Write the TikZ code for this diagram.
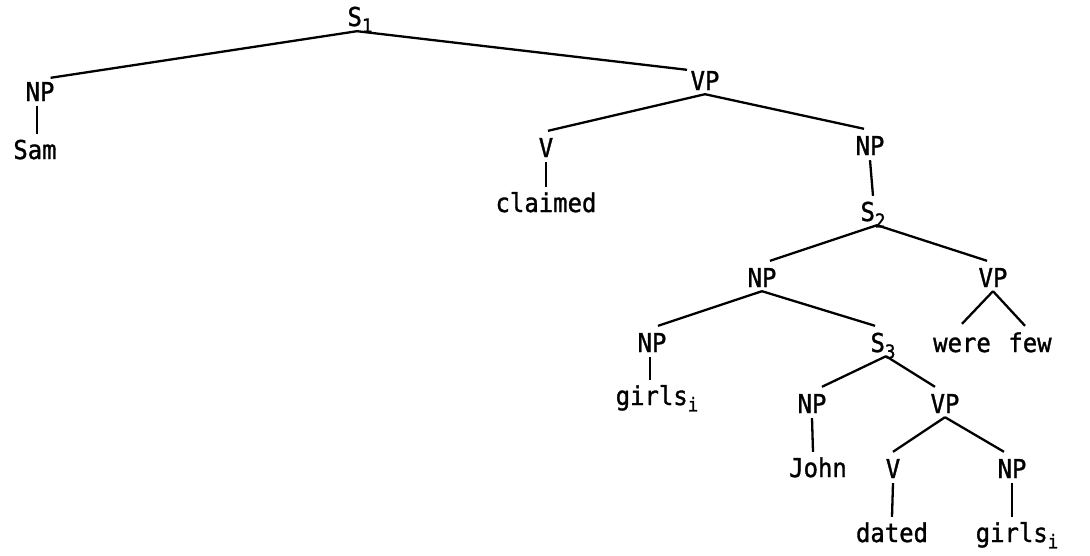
\documentclass[tikz,border=0pt]{standalone}
\usepackage{fontspec}
\setmonofont[FakeStretch=0.92,FakeBold=1.2]{DejaVu Sans Mono}
\newcommand\lowix[1]{\raisebox{-0.45ex}{\fontsize{19}{19}\selectfont #1}}
\begin{document}
\begin{tikzpicture}[x=1pt,y=-1pt,
  lbl/.style={inner sep=0pt,text height=20pt,text depth=6pt,font=\ttfamily\fontsize{26}{26}\selectfont},
  edge/.style={line width=2.3pt,black}]
\useasboundingbox (0,0) rectangle (1090,555);
% nodes
\node[lbl] (s1) at (360,19) {S\lowix{1}};
\node[lbl] (np1) at (40,94) {NP};
\node[lbl] (sam) at (35,152) {Sam};
\node[lbl] (vp1) at (705,83) {VP};
\node[lbl] (v1) at (546,150) {V};
\node[lbl] (claimed) at (546,205) {claimed};
\node[lbl] (np2) at (870,148) {NP};
\node[lbl] (s2) at (873,214) {S\lowix{2}};
\node[lbl] (np3) at (762,280) {NP};
\node[lbl] (vp2) at (993,280) {VP};
\node[lbl] (were) at (962,345) {were};
\node[lbl] (few) at (1030,345) {few};
\node[lbl] (np4) at (652,345) {NP};
\node[lbl] (girls1) at (657,398) {girls\lowix{i}};
\node[lbl] (s3) at (883,345) {S\lowix{3}};
\node[lbl] (np5) at (812,406) {NP};
\node[lbl] (vp3) at (945,406) {VP};
\node[lbl] (john) at (818,470) {John};
\node[lbl] (v2) at (893,471) {V};
\node[lbl] (np6) at (1012,471) {NP};
\node[lbl] (dated) at (892,535) {dated};
\node[lbl] (girls2) at (1017,535) {girls\lowix{i}};
% connectors
\coordinate (s1b) at ([xshift=-3pt,yshift=1pt]s1.south);
\draw[edge] (s1b) -- ([xshift=-4pt,yshift=3pt]np1.north east);
\draw[edge] (s1b) -- ([xshift=-18pt,yshift=0pt]vp1.north);
\draw[edge] ([xshift=-3pt,yshift=1pt]np1.south) -- ([xshift=2pt,yshift=5pt]sam.north);
\draw[edge] ([yshift=2pt]vp1.south) -- ([xshift=2pt,yshift=6pt]v1.north);
\draw[edge] ([yshift=2pt]vp1.south) -- ([xshift=-6pt,yshift=6pt]np2.north);
\draw[edge] ([yshift=1pt]v1.south) -- ([yshift=5pt]claimed.north);
\draw[edge] ([yshift=1pt]np2.south) -- ([yshift=5pt]s2.north);
\draw[edge] ([xshift=4pt,yshift=2pt]s2.south) -- ([xshift=8pt,yshift=6pt]np3.north);
\draw[edge] ([xshift=4pt,yshift=2pt]s2.south) -- ([xshift=-6pt,yshift=6pt]vp2.north);
\draw[edge] ([yshift=2pt]np3.south) -- ([xshift=6pt,yshift=6pt]np4.north);
\draw[edge] ([yshift=2pt]np3.south) -- ([xshift=-8pt,yshift=6pt]s3.north);
\draw[edge] ([yshift=2pt]vp2.south) -- ([yshift=8pt]were.north);
\draw[edge] ([yshift=2pt]vp2.south) -- ([xshift=-5pt,yshift=6pt]few.north);
\draw[edge] ([xshift=-2pt,yshift=1pt]np4.south) -- ([xshift=-7pt,yshift=5pt]girls1.north);
\draw[edge] ([xshift=3pt,yshift=2pt]s3.south) -- ([xshift=10pt,yshift=6pt]np5.north);
\draw[edge] ([xshift=3pt,yshift=2pt]s3.south) -- ([xshift=-10pt,yshift=6pt]vp3.north);
\draw[edge] ([yshift=1pt]np5.south) -- ([xshift=-5pt,yshift=5pt]john.north);
\draw[edge] ([yshift=2pt]vp3.south) -- ([yshift=6pt]v2.north);
\draw[edge] ([yshift=2pt]vp3.south) -- ([xshift=-8pt,yshift=6pt]np6.north);
\draw[edge] ([yshift=1pt]v2.south) -- ([yshift=5pt]dated.north);
\draw[edge] ([yshift=1pt]np6.south) -- ([xshift=-5pt,yshift=5pt]girls2.north);
\end{tikzpicture}
\end{document}
